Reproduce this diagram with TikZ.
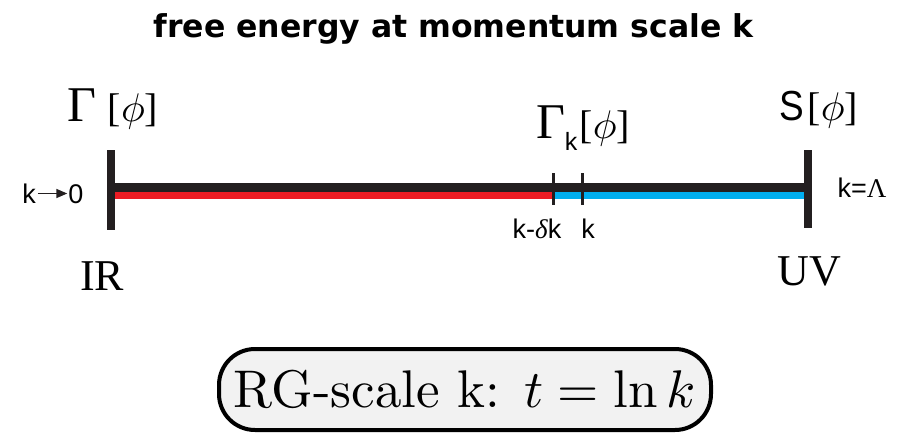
\documentclass[tikz,border=0pt]{standalone}
\usepackage{fontspec}
\newfontfamily\tms{Liberation Serif}
\newfontfamily\arial{Liberation Sans}
\newfontfamily\ttl{DejaVu Sans}
\usetikzlibrary{arrows.meta}
\definecolor{barblack}{HTML}{231F20}
\definecolor{lowred}{HTML}{ED1C24}
\definecolor{highblue}{HTML}{00AEEF}
\definecolor{boxgray}{HTML}{F2F2F2}
\newcommand{\bigphi}{\scalebox{4.0}{\fontsize{10}{12}\selectfont$\phi$}}
\newcommand{\bigGamma}{{\fontsize{50}{50}\selectfont Γ}}
\tikzset{
  titletext/.style={font=\ttl\bfseries\fontsize{31.5}{31.5}\selectfont, anchor=base, inner sep=0},
  funtext/.style={font=\tms\fontsize{40}{40}\selectfont, anchor=base, inner sep=0},
  endtext/.style={font=\tms\fontsize{44}{44}\selectfont, anchor=base, inner sep=0},
  smalltext/.style={font=\arial\fontsize{27}{27}\selectfont, anchor=base, inner sep=0},
  endbar/.style={draw=barblack, line width=8pt},
  tickmark/.style={draw=barblack, line width=3pt},
}
\begin{document}
\begin{tikzpicture}[x=1pt,y=-1pt]
\useasboundingbox (0,0) rectangle (897,434);
% title
\node[titletext] (title) at (453.5,37) {free energy at momentum scale k};
% end bars and scale line
\coordinate (irtop) at (111,150);
\coordinate (irbot) at (111,230);
\coordinate (uvtop) at (808,150);
\coordinate (uvbot) at (808,228);
\coordinate (blackL) at (111,187.5);
\coordinate (blackR) at (808,187.5);
\coordinate (colL) at (115,195.5);
\coordinate (colM) at (553,195.5);
\coordinate (colR) at (804,195.5);
\draw[draw=barblack, line width=9pt] (blackL) -- (blackR);
\draw[draw=lowred, line width=7pt] (colL) -- (colM);
\draw[draw=highblue, line width=7pt] (colM) -- (colR);
\draw[endbar] (irtop) -- (irbot);
\draw[endbar] (uvtop) -- (uvbot);
% ticks
\coordinate (t1top) at (553,173);
\coordinate (t1bot) at (553,205);
\coordinate (t2top) at (582,173);
\coordinate (t2bot) at (582,205);
\draw[tickmark] (t1top) -- (t1bot);
\draw[tickmark] (t2top) -- (t2bot);
% functionals
\node[funtext] (gamma) at (113,121) {\bigGamma\hspace{11pt}[\bigphi]};
\node[funtext] (gammak) at (583,138) {\bigGamma\raisebox{-0.3em}{\arial\fontsize{25}{25}\selectfont k}\hspace{2pt}[\bigphi]};
\node[funtext] (action) at (819,120) {\arial\fontsize{42}{42}\selectfont\scalebox{0.88}[1]{S}\tms\fontsize{40}{40}\selectfont\hspace{3pt}[\bigphi]};
% IR / UV
\node[endtext] (ir) at (102,290) {IR};
\node[endtext] (uv) at (809,285) {UV};
% small labels
\node[smalltext] (kl) at (29,203) {k};
\node[smalltext] (zero) at (76,203) {0};
\draw[draw=barblack, line width=1.6pt, -{Triangle[length=11pt,width=9pt]}] ([yshift=9.5pt,xshift=2pt]kl.base east) -- ([yshift=9.5pt,xshift=-1pt]zero.base west);
\node[smalltext] (kmax) at (862,197) {k=\tms Λ};
\node[smalltext] (kdk) at (537,238) {k-{\tms\itshape δ}k};
\node[smalltext] (kk) at (588,238) {k};
% RG box
\node[draw=black, line width=4pt, fill=boxgray, rounded corners=36pt, minimum width=492pt, minimum height=81pt, inner sep=0] (rg) at (465,389.5) {\scalebox{5.3}{RG-scale k:\hspace{4.5pt}$t=\ln k$}};
\end{tikzpicture}
\end{document}
